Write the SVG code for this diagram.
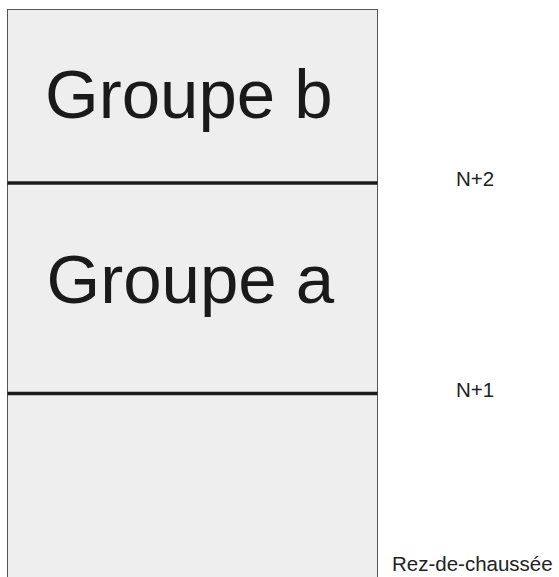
<svg xmlns="http://www.w3.org/2000/svg" width="559" height="577" viewBox="0 0 559 577">
<style>
.big{font-family:"Liberation Sans",Arial,sans-serif;font-size:69px;fill:#1a1a1a}
.lab{font-family:"Liberation Sans",Arial,sans-serif;font-size:20.5px;fill:#222}
.floor{stroke:#1a1a1a;stroke-width:3.5}
</style>
<rect width="559" height="577" fill="#ffffff"/>
<g id="building">
<rect x="7.5" y="9.5" width="370" height="580" fill="#eeeeee" stroke="#555555" stroke-width="1"/>
</g>
<g id="connectors">
<line class="floor" x1="7.5" y1="183" x2="377.5" y2="183"/>
<line class="floor" x1="7.5" y1="393.5" x2="377.5" y2="393.5"/>
</g>
<g id="groupe-b"><text class="big" x="45" y="118">Groupe b</text></g>
<g id="groupe-a"><text class="big" x="46.5" y="302.5">Groupe a</text></g>
<g id="n2"><text class="lab" x="456" y="186">N+2</text></g>
<g id="n1"><text class="lab" x="456" y="397">N+1</text></g>
<g id="rdc"><text class="lab" x="392" y="571">Rez-de-chaussée</text></g>
</svg>
